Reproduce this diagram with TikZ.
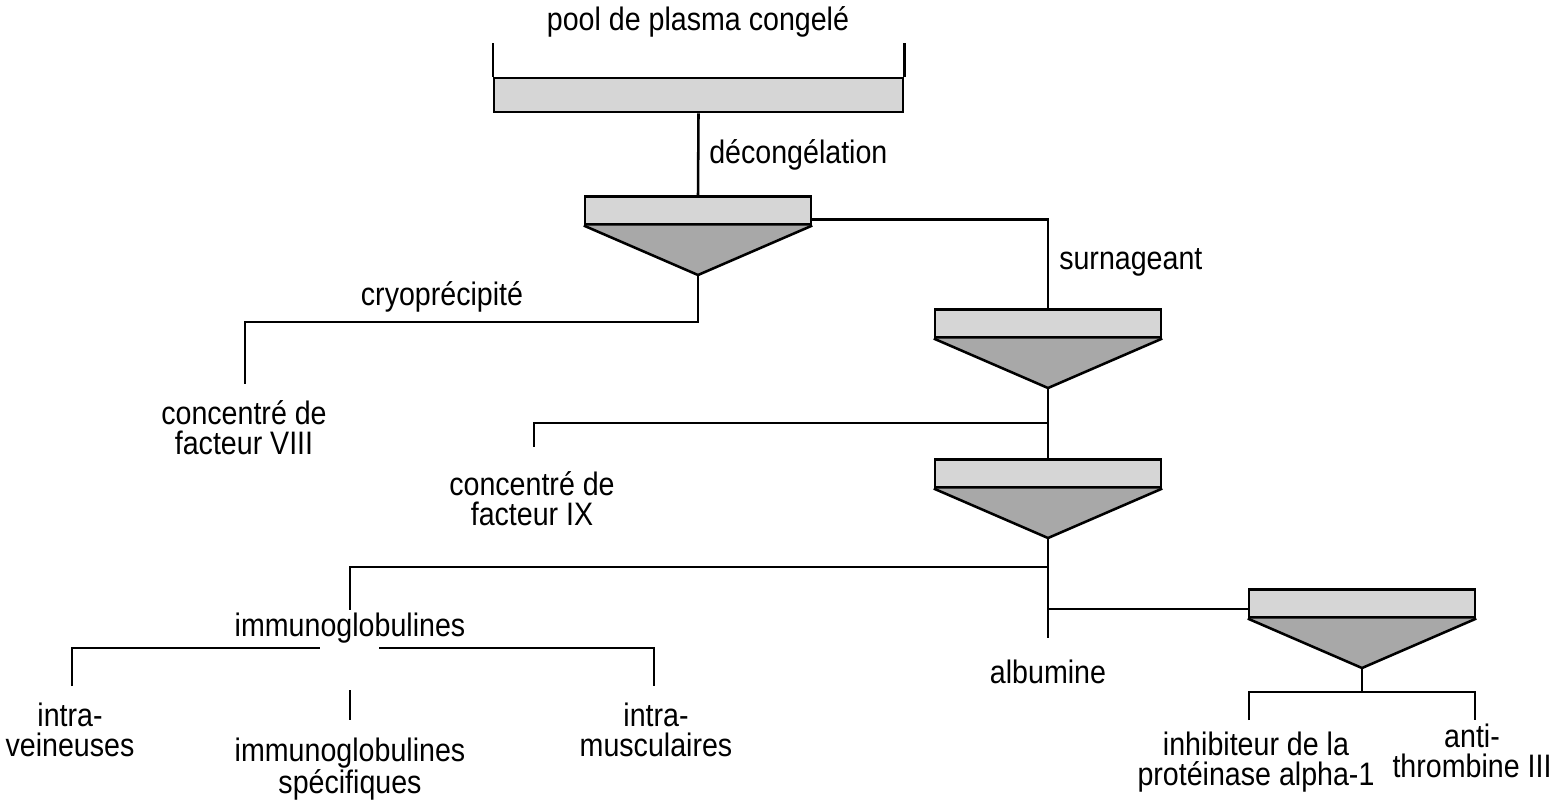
\documentclass[tikz,border=0pt]{standalone}
\usepackage{fontspec}
\setmainfont[FakeStretch=0.88]{Liberation Sans}
\usetikzlibrary{positioning,calc}
\definecolor{tanklight}{gray}{0.84}
\definecolor{tankdark}{gray}{0.66}
\tikzset{
  tank/.style={rectangle, draw, fill=tanklight, anchor=north, minimum width=4.52cm, minimum height=0.56cm, inner sep=0pt},
  lbl/.style={align=center, inner sep=0pt, font=\fontsize{18.5}{17}\selectfont}
}
\begin{document}
\begin{tikzpicture}[x=0.02cm, y=-0.02cm, line width=1.45pt]
\useasboundingbox (0,0) rectangle (1564,802);

\node[rectangle, draw, fill=tanklight, minimum width=8.18cm, minimum height=0.68cm, inner sep=0pt] (pool) at (698.5,95) {};
\draw (pool.north west) -- ++(0,-34);
\draw (pool.north east) -- ++(0,-34);
\node[lbl] (pool label) at (698,22) {pool de plasma congelé};

\foreach \n/\x/\y in {sep1/698/195, sep2/1048/308, sep3/1048/458, sep4/1362/588} {
  \node[tank] (\n) at (\x,\y) {};
  \coordinate (apex \n) at (\x,\y+80);
  \filldraw[fill=tankdark] (\n.south west) -- (apex \n) -- (\n.south east);
}

\node[lbl, anchor=west] (decong) at (708,155) {décongélation};
\node[lbl, anchor=west] (surn) at (1058,262) {surnageant};
\node[lbl] (cryo) at (442,297) {cryoprécipité};
\node[lbl] (f8) at (244,428) {concentré de\\facteur VIII};
\node[lbl] (f9) at (532,499) {concentré de\\facteur IX};
\node[lbl] (immu) at (350,628) {immunoglobulines};
\node[lbl] (iv) at (70,730) {intra-\\veineuses};
\node[lbl] (is) at (350,769) {immunoglobulines\\spécifiques};
\node[lbl] (im) at (656,730) {intra-\\musculaires};
\node[lbl] (alb) at (1048,672) {albumine};
\node[lbl] (inh) at (1256,762) {inhibiteur de la\\protéinase alpha-1};
\node[lbl] (at3) at (1472,751) {anti-\\thrombine III};

\coordinate (f8 end) at (245,384);
\coordinate (f9 end) at (534,447);
\coordinate (j1) at (1048,423);
\coordinate (j2) at (1048,567);
\coordinate (j3) at (1048,609);
\coordinate (alb end) at (1048,638);
\coordinate (immu end) at (350,610);
\coordinate (iv end) at (72,686);
\coordinate (gap left) at (320,648);
\coordinate (gap right) at (379,648);
\coordinate (im end) at (654,686);
\coordinate (is top) at (350,690);
\coordinate (is end) at (350,720);
\coordinate (k4) at (1362,692);
\coordinate (inh end) at (1249,720);
\coordinate (at3 end) at (1475,720);

\draw (pool.south) -- (sep1.north);
\draw ([yshift=3.4pt]sep1.south east) -| (sep2.north);
\draw (apex sep1) -- ++(0,47) -| (f8 end);
\draw (apex sep2) -- (sep3.north);
\draw (j1) -| (f9 end);
\draw (apex sep3) -- (alb end);
\draw (j2) -| (immu end);
\draw (j3) -- (j3 -| sep4.west);
\draw (iv end) |- (gap left);
\draw (gap right) -| (im end);
\draw (is top) -- (is end);
\draw (apex sep4) -- (k4);
\draw (inh end) |- (k4) -| (at3 end);
\end{tikzpicture}
\end{document}
